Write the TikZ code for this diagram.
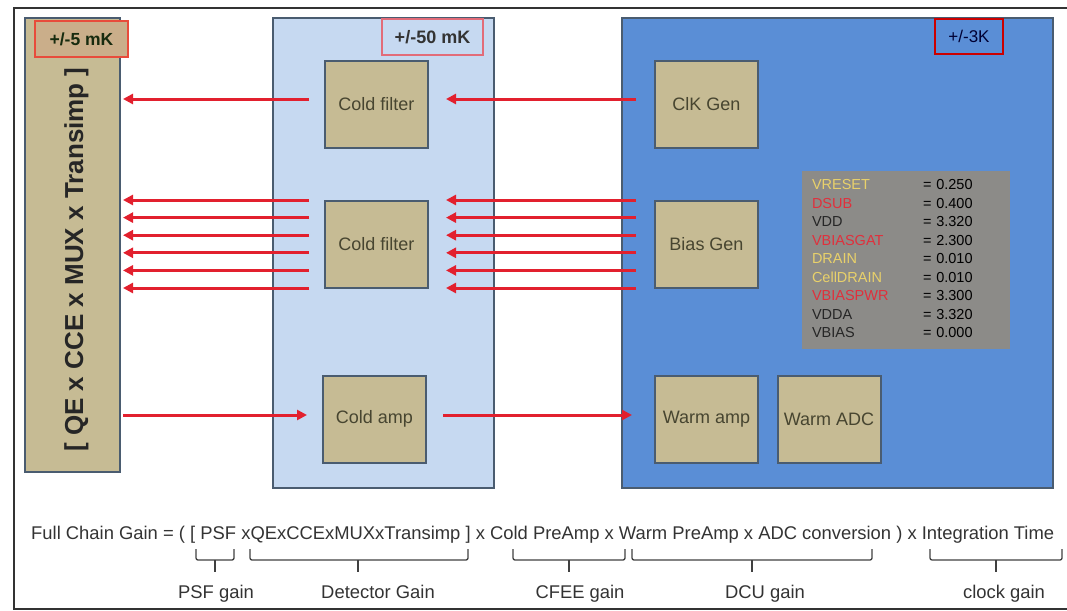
\documentclass[tikz,border=0pt]{standalone}
\usepackage{fontspec}
\setmainfont{Liberation Sans}
\usetikzlibrary{arrows.meta, positioning}

\definecolor{tanfill}{HTML}{C6BB94}
\definecolor{slate}{HTML}{4A5C70}
\definecolor{coldblue}{HTML}{C6D9F1}
\definecolor{warmblue}{HTML}{5A8ED6}
\definecolor{sigred}{HTML}{E2202E}
\definecolor{olive}{HTML}{474530}
\definecolor{regyel}{HTML}{E9D16A}
\definecolor{regred}{HTML}{E0303C}
\definecolor{reggray}{HTML}{8C8B88}

\begin{document}
\begin{tikzpicture}[x=1pt, y=-1pt,
    b/.style={rectangle, draw=slate, line width=2pt, fill=tanfill, minimum width=103pt, minimum height=87pt, font=\fontsize{18}{22}\selectfont, text=olive},
    zn/.style={rectangle, draw=slate, line width=2pt, inner sep=0pt},
    tg/.style={rectangle, line width=1.5pt, inner sep=0pt, font=\fontsize{17}{20}\selectfont},
    a/.style={-{Triangle[length=10pt, width=10pt]}, line width=3pt, sigred},
    br/.style={draw=black!75, line width=1.3pt, rounded corners=2pt},
    gl/.style={font=\fontsize{18.4}{22}\selectfont, text=black!80, inner sep=0pt, anchor=base},
]
\useasboundingbox (0,0) rectangle (1067,610);
\draw[line width=2pt, black!80] (14,8) rectangle (1075,609);

% Temperature zones
\node[zn, fill=tanfill, minimum width=95pt, minimum height=454pt] (det) at (72.5,245) {};
\node[zn, fill=coldblue, minimum width=221pt, minimum height=470pt] (cold) at (383.5,253) {};
\node[zn, fill=warmblue, minimum width=431pt, minimum height=470pt] (warm) at (837.5,253) {};

\node[rotate=90, anchor=base, font=\fontsize{26}{30}\selectfont\bfseries, text=black!85] (detlbl) at (83,259.5) {[ QE x CCE x MUX x Transimp ]};

\node[tg, draw=red!60!tanfill, fill=red!7!tanfill, text=olive!80!green!40!black, minimum width=93pt, minimum height=36pt, font=\fontsize{17.5}{20}\selectfont\bfseries] (mk5) at (81.5,39) {+/-5 mK};
\node[tg, draw=red!50!coldblue, fill=coldblue, text=black!80, minimum width=101pt, minimum height=36pt, font=\fontsize{18}{20}\selectfont\bfseries] (mk50) at (432.5,37) {+/-50 mK};
\node[tg, draw=red!80!black, fill=warmblue, text=black!80!blue, minimum width=68pt, minimum height=35pt] (k3) at (969,36.5) {+/-3K};

% Cold electronics
\node[b] (cf1) at (376.5,104.5) {Cold filter};
\node[b] (cf2) at (376.5,244) {Cold filter};
\node[b] (camp) at (374.5,419) {Cold amp};

% Warm electronics
\node[b] (clk) at (706.5,104.5) {ClK Gen};
\node[b] (bias) at (706.5,244.5) {Bias Gen};
\node[b] (wamp) at (706.5,419.5) {Warm amp};
\node[b] (wadc) at (829,419.5) {Warm ADC};

\node[rectangle, fill=reggray, minimum width=208pt, minimum height=178pt, text width=188pt, inner xsep=10pt, inner ysep=0pt, font=\fontsize{14.5}{18.5}\selectfont, align=left] (regs) at (906,260) {%
\begin{tabular}{@{}p{111pt}@{}l@{}}
\textcolor{regyel}{VRESET} & = 0.250\\
\textcolor{regred}{DSUB} & = 0.400\\
\textcolor{black!85}{VDD} & = 3.320\\
\textcolor{regred}{VBIASGAT} & = 2.300\\
\textcolor{regyel}{DRAIN} & = 0.010\\
\textcolor{regyel}{CellDRAIN} & = 0.010\\
\textcolor{regred}{VBIASPWR} & = 3.300\\
\textcolor{black!85}{VDDA} & = 3.320\\
\textcolor{black!85}{VBIAS} & = 0.000
\end{tabular}};

% Clock lines
\draw[a, shorten <=18pt, shorten >=17pt] ([yshift=5.5pt]cf1.east -| clk.west) -- ([yshift=5.5pt]cf1.east);
\draw[a, shorten <=15pt, shorten >=2pt] ([yshift=5.5pt]cf1.west) -- ([yshift=5.5pt]cf1.west -| det.east);

% Bias lines
\draw[a, shorten <=18pt, shorten >=17pt] ([yshift=44pt]cf2.east -| bias.west) -- ([yshift=44pt]cf2.east);
\draw[a, shorten <=18pt, shorten >=17pt] ([yshift=26.4pt]cf2.east -| bias.west) -- ([yshift=26.4pt]cf2.east);
\draw[a, shorten <=18pt, shorten >=17pt] ([yshift=8.8pt]cf2.east -| bias.west) -- ([yshift=8.8pt]cf2.east);
\draw[a, shorten <=18pt, shorten >=17pt] ([yshift=-8.8pt]cf2.east -| bias.west) -- ([yshift=-8.8pt]cf2.east);
\draw[a, shorten <=18pt, shorten >=17pt] ([yshift=-26.4pt]cf2.east -| bias.west) -- ([yshift=-26.4pt]cf2.east);
\draw[a, shorten <=18pt, shorten >=17pt] ([yshift=-44pt]cf2.east -| bias.west) -- ([yshift=-44pt]cf2.east);
\draw[a, shorten <=15pt, shorten >=2pt] ([yshift=44pt]cf2.west) -- ([yshift=44pt]cf2.west -| det.east);
\draw[a, shorten <=15pt, shorten >=2pt] ([yshift=26.4pt]cf2.west) -- ([yshift=26.4pt]cf2.west -| det.east);
\draw[a, shorten <=15pt, shorten >=2pt] ([yshift=8.8pt]cf2.west) -- ([yshift=8.8pt]cf2.west -| det.east);
\draw[a, shorten <=15pt, shorten >=2pt] ([yshift=-8.8pt]cf2.west) -- ([yshift=-8.8pt]cf2.west -| det.east);
\draw[a, shorten <=15pt, shorten >=2pt] ([yshift=-26.4pt]cf2.west) -- ([yshift=-26.4pt]cf2.west -| det.east);
\draw[a, shorten <=15pt, shorten >=2pt] ([yshift=-44pt]cf2.west) -- ([yshift=-44pt]cf2.west -| det.east);

% Signal chain
\draw[a, shorten <=2pt, shorten >=15pt] ([yshift=4pt]camp.west -| det.east) -- ([yshift=4pt]camp.west);
\draw[a, shorten <=16pt, shorten >=22pt] ([yshift=4pt]camp.east) -- ([yshift=4pt]camp.east -| wamp.west);

% Gain equation
\node[gl, anchor=base west] (gain) at (31,539) {Full Chain Gain = ( [ PSF xQExCCExMUXxTransimp ] x Cold PreAmp x Warm PreAmp x ADC conversion ) x Integration Time};

\draw[br] (196,549) -- (196,560) -- (234,560) -- (234,549); \draw[br] (215,560) -- (215,572);
\draw[br] (250,549) -- (250,560) -- (468,560) -- (468,549); \draw[br] (358,560) -- (358,572);
\draw[br] (513,549) -- (513,560) -- (625,560) -- (625,549); \draw[br] (569,560) -- (569,572);
\draw[br] (632,549) -- (632,560) -- (872,560) -- (872,549); \draw[br] (752,560) -- (752,572);
\draw[br] (930,549) -- (930,560) -- (1062,560) -- (1062,549); \draw[br] (996,560) -- (996,572);

\node[gl] (psfg) at (216,598) {PSF gain};
\node[gl] (detg) at (378,598) {Detector Gain};
\node[gl] (cfeeg) at (580,598) {CFEE gain};
\node[gl] (dcug) at (765,598) {DCU gain};
\node[gl] (clkg) at (1004,598) {clock gain};
\end{tikzpicture}
\end{document}
